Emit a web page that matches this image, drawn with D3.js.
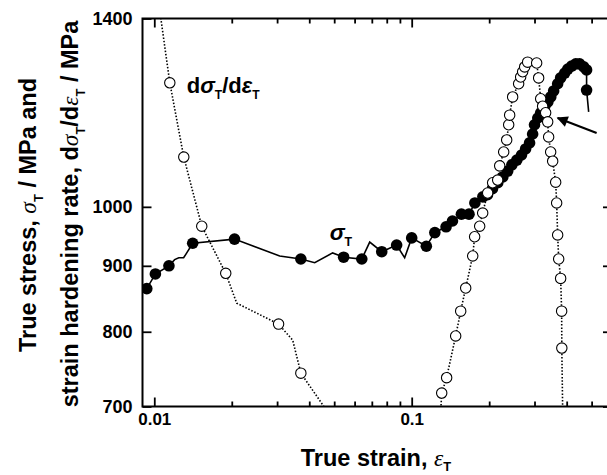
<!DOCTYPE html>
<html>
<head>
<meta charset="utf-8">
<script src="https://cdn.jsdelivr.net/npm/d3@7"></script>
<style>
  body { margin: 0; background: #fff; }
  svg { display: block; font-family: "Liberation Sans", Arial, sans-serif; font-weight: bold; }
</style>
</head>
<body>
<div id="chart"></div>
<script>
// true stress (filled circles) : [strain, MPa]
const stress_markers = [
  [0.00935, 864], [0.0101, 887], [0.0114, 900], [0.0141, 937], [0.0205, 944],
  [0.0371, 911], [0.0544, 914], [0.0640, 911], [0.0765, 923], [0.0874, 934],
  [0.100, 946], [0.114, 932], [0.123, 955], [0.136, 965], [0.144, 975],
  [0.156, 987], [0.167, 987], [0.176, 1007], [0.189, 1018], [0.197, 1022],
  [0.206, 1033], [0.216, 1044], [0.226, 1055], [0.236, 1066], [0.245, 1078],
  [0.256, 1087], [0.267, 1097], [0.277, 1109], [0.287, 1121], [0.295, 1139],
  [0.300, 1158], [0.309, 1172], [0.317, 1183], [0.329, 1197], [0.338, 1206],
  [0.347, 1217], [0.356, 1230], [0.369, 1246], [0.379, 1259], [0.393, 1270],
  [0.404, 1279], [0.418, 1286], [0.434, 1291], [0.449, 1291], [0.466, 1284],
  [0.478, 1277], [0.478, 1232]
];
// extra vertices of the stress curve between markers
const stress_line_only = [
  [0.0120, 910], [0.01245, 913], [0.0130, 913], [0.01337, 921], [0.0307, 916],
  [0.0420, 905], [0.0493, 921], [0.0687, 939], [0.0939, 913], [0.487, 1185]
];

// strain hardening rate (open circles), low strain branch
const hard_left_markers = [
  [0.01149, 1248], [0.01302, 1093], [0.01529, 966], [0.01895, 888], [0.0304, 811], [0.0371, 743]
];
const hard_left_line_only = [[0.0103, 1460], [0.0209, 842], [0.0345, 788], [0.0472, 693]];

// strain hardening rate, high strain branch (up then down)
const hard_right_markers = [
  [0.1308, 717], [0.1367, 737], [0.1482, 794], [0.1550, 830], [0.1621, 865],
  [0.1726, 916], [0.1756, 948], [0.1837, 966], [0.1887, 989], [0.1973, 1025],
  [0.2063, 1044], [0.2158, 1049], [0.2197, 1076], [0.2277, 1103], [0.2339, 1127],
  [0.2381, 1158], [0.2402, 1178], [0.2467, 1217], [0.2603, 1246], [0.2650, 1261],
  [0.2698, 1273], [0.2747, 1284], [0.2821, 1295],
  [0.3058, 1293], [0.3113, 1259], [0.3170, 1213], [0.3226, 1197], [0.3314, 1183],
  [0.3375, 1164], [0.3404, 1133], [0.3466, 1103], [0.3529, 1085], [0.3625, 1045],
  [0.3657, 1007], [0.3690, 951], [0.3724, 911], [0.3790, 880], [0.3824, 830], [0.383, 777]
];
const hard_right_line_only = [[0.1296, 693], [0.386, 693]];

const x_major = [0.01, 0.1];
const x_minor = [0.02, 0.03, 0.04, 0.05, 0.06, 0.07, 0.08, 0.09, 0.2, 0.3, 0.4, 0.5, 0.6];
const y_ticks = [700, 800, 900, 1000];
const y_labels = [700, 800, 900, 1000, 1400];

// annotation anchors in data units
const arrow_tip = [0.369, 1172];
const arrow_tail = [0.523, 1141];
const label_stress = [0.048, 943];
const label_hard = [0.01337, 1226];

const W = 607, H = 475;
const plot = { left: 142.5, right: 612, top: 18.5, bottom: 406.5 };
const SANS = "'Liberation Sans', Arial, sans-serif";
const SERIF = "'Liberation Serif', 'Times New Roman', serif";

const svg = d3.select("#chart").append("svg")
  .attr("width", W).attr("height", H);
svg.append("rect").attr("width", W).attr("height", H).attr("fill", "#fff");

const x = d3.scaleLog().domain([0.009, 0.6]).range([plot.left, plot.right]);
const y = d3.scaleLog().domain([700, 1400]).range([plot.bottom, plot.top]);

const defs = svg.append("defs");
defs.append("clipPath").attr("id", "clip")
  .append("rect")
  .attr("x", plot.left).attr("y", plot.top)
  .attr("width", plot.right - plot.left).attr("height", plot.bottom - plot.top);

function merged(markers, extra) {
  return markers.concat(extra).sort((a, b) => a[0] - b[0]);
}

const line = d3.line().x(d => x(d[0])).y(d => y(d[1]));
const g = svg.append("g").attr("clip-path", "url(#clip)");

// stress curve
g.append("path")
  .datum(merged(stress_markers, stress_line_only))
  .attr("d", line)
  .attr("fill", "none").attr("stroke", "#000").attr("stroke-width", 1.6);
g.selectAll("circle.stress")
  .data(stress_markers)
  .join("circle")
  .classed("stress", true)
  .attr("cx", d => x(d[0])).attr("cy", d => y(d[1]))
  .attr("r", 5.8).attr("fill", "#000");

// hardening rate curves
for (const [m, extra] of [[hard_left_markers, hard_left_line_only], [hard_right_markers, hard_right_line_only]]) {
  g.append("path")
    .datum(merged(m, extra))
    .attr("d", line)
    .attr("fill", "none").attr("stroke", "#000")
    .attr("stroke-width", 1.6).attr("stroke-dasharray", "1.5,1.8");
}
g.selectAll("circle.hard")
  .data(hard_left_markers.concat(hard_right_markers))
  .join("circle")
  .classed("hard", true)
  .attr("cx", d => x(d[0])).attr("cy", d => y(d[1]))
  .attr("r", 5.2).attr("fill", "#fff").attr("stroke", "#000").attr("stroke-width", 1.1);

// axes: all ticks point inward
const ax_style = size => sel => {
  sel.select(".domain").remove();
  sel.selectAll("line").attr("stroke", "#000").attr("stroke-width", 1.8);
  sel.selectAll("text").attr("fill", "#000").attr("font-size", size)
    .attr("font-family", SANS).attr("font-weight", "bold");
};
svg.append("g").attr("transform", `translate(0,${plot.bottom})`)
  .call(d3.axisBottom(x).tickValues(x_major).tickFormat(d3.format("")).tickSizeInner(-9).tickSizeOuter(0).tickPadding(6))
  .call(ax_style(17));
svg.append("g").attr("transform", `translate(0,${plot.bottom})`)
  .call(d3.axisBottom(x).tickValues(x_minor).tickFormat("").tickSizeInner(-5).tickSizeOuter(0))
  .call(ax_style(17));
svg.append("g").attr("transform", `translate(0,${plot.top})`)
  .call(d3.axisTop(x).tickValues(x_major).tickFormat("").tickSizeInner(-9).tickSizeOuter(0))
  .call(ax_style(17));
svg.append("g").attr("transform", `translate(0,${plot.top})`)
  .call(d3.axisTop(x).tickValues(x_minor).tickFormat("").tickSizeInner(-5).tickSizeOuter(0))
  .call(ax_style(17));
svg.append("g").attr("transform", `translate(${plot.left},0)`)
  .call(d3.axisLeft(y).tickValues(y_labels).tickFormat(d3.format("d")).tickSizeInner(-9).tickSizeOuter(0).tickPadding(10))
  .call(ax_style(18));
svg.append("g").attr("transform", `translate(${plot.right},0)`)
  .call(d3.axisRight(y).tickValues(y_ticks).tickFormat("").tickSizeInner(-9).tickSizeOuter(0))
  .call(ax_style(18));

// frame
svg.append("rect")
  .attr("x", plot.left).attr("y", plot.top)
  .attr("width", plot.right - plot.left).attr("height", plot.bottom - plot.top)
  .attr("fill", "none").attr("stroke", "#000").attr("stroke-width", 2);

// rich text: parts = [text, kind], kind "n" plain, "sym" italic greek, "sub" subscript
function rich(text, parts, size, symFont, symWeight, subShift = 0.28) {
  const shift = size * subShift;
  let back = 0;
  for (const [t, kind] of parts) {
    const ts = text.append("tspan").text(t);
    if (kind === "sub") {
      ts.attr("font-size", size * 0.55).attr("dy", shift);
      back = -shift;
      continue;
    }
    if (back) { ts.attr("dy", back); back = 0; }
    if (kind === "sym") {
      ts.attr("font-family", symFont).attr("font-style", "italic").attr("font-weight", symWeight);
    }
  }
}

// axis titles
const TS = 23.5;
const yt1 = svg.append("text")
  .attr("transform", "translate(36,215) rotate(-90)")
  .attr("text-anchor", "middle").attr("font-size", TS);
rich(yt1, [["True stress, ", "n"], ["\u03C3", "sym"], ["T", "sub"], [" / MPa and", "n"]], TS, SERIF, "normal");

const yt2 = svg.append("text")
  .attr("transform", "translate(78,214) rotate(-90)")
  .attr("text-anchor", "middle").attr("font-size", TS);
rich(yt2, [["strain hardening rate, d", "n"], ["\u03C3", "sym"], ["T", "sub"], ["/d", "n"],
           ["\u03B5", "sym"], ["T", "sub"], [" / MPa", "n"]], TS, SERIF, "normal");

const xt = svg.append("text")
  .attr("x", 376).attr("y", 466)
  .attr("text-anchor", "middle").attr("font-size", TS);
rich(xt, [["True strain, ", "n"], ["\u03B5", "sym"], ["T", "sub"]], TS, SERIF, "normal", 0.2);

// curve labels
const ls = svg.append("text")
  .attr("x", x(label_stress[0])).attr("y", y(label_stress[1]))
  .attr("font-size", 22.5);
rich(ls, [["\u03C3", "sym"], ["T", "sub"]], 22.5, SANS, "bold");

const lh = svg.append("text")
  .attr("x", x(label_hard[0])).attr("y", y(label_hard[1]))
  .attr("font-size", 22);
rich(lh, [["d", "n"], ["\u03C3", "sym"], ["T", "sub"], ["/d", "n"], ["\u03B5", "sym"], ["T", "sub"]], 22, SANS, "bold");

// arrow
defs.append("marker")
  .attr("id", "head").attr("viewBox", "0 0 10 10")
  .attr("refX", 9).attr("refY", 5)
  .attr("markerWidth", 6).attr("markerHeight", 5)
  .attr("orient", "auto")
  .append("path").attr("d", "M0,0 L10,5 L0,10 z").attr("fill", "#000");
svg.append("line")
  .attr("x1", x(arrow_tail[0])).attr("y1", y(arrow_tail[1]))
  .attr("x2", x(arrow_tip[0])).attr("y2", y(arrow_tip[1]))
  .attr("stroke", "#000").attr("stroke-width", 2.2)
  .attr("marker-end", "url(#head)");
</script>
</body>
</html>
